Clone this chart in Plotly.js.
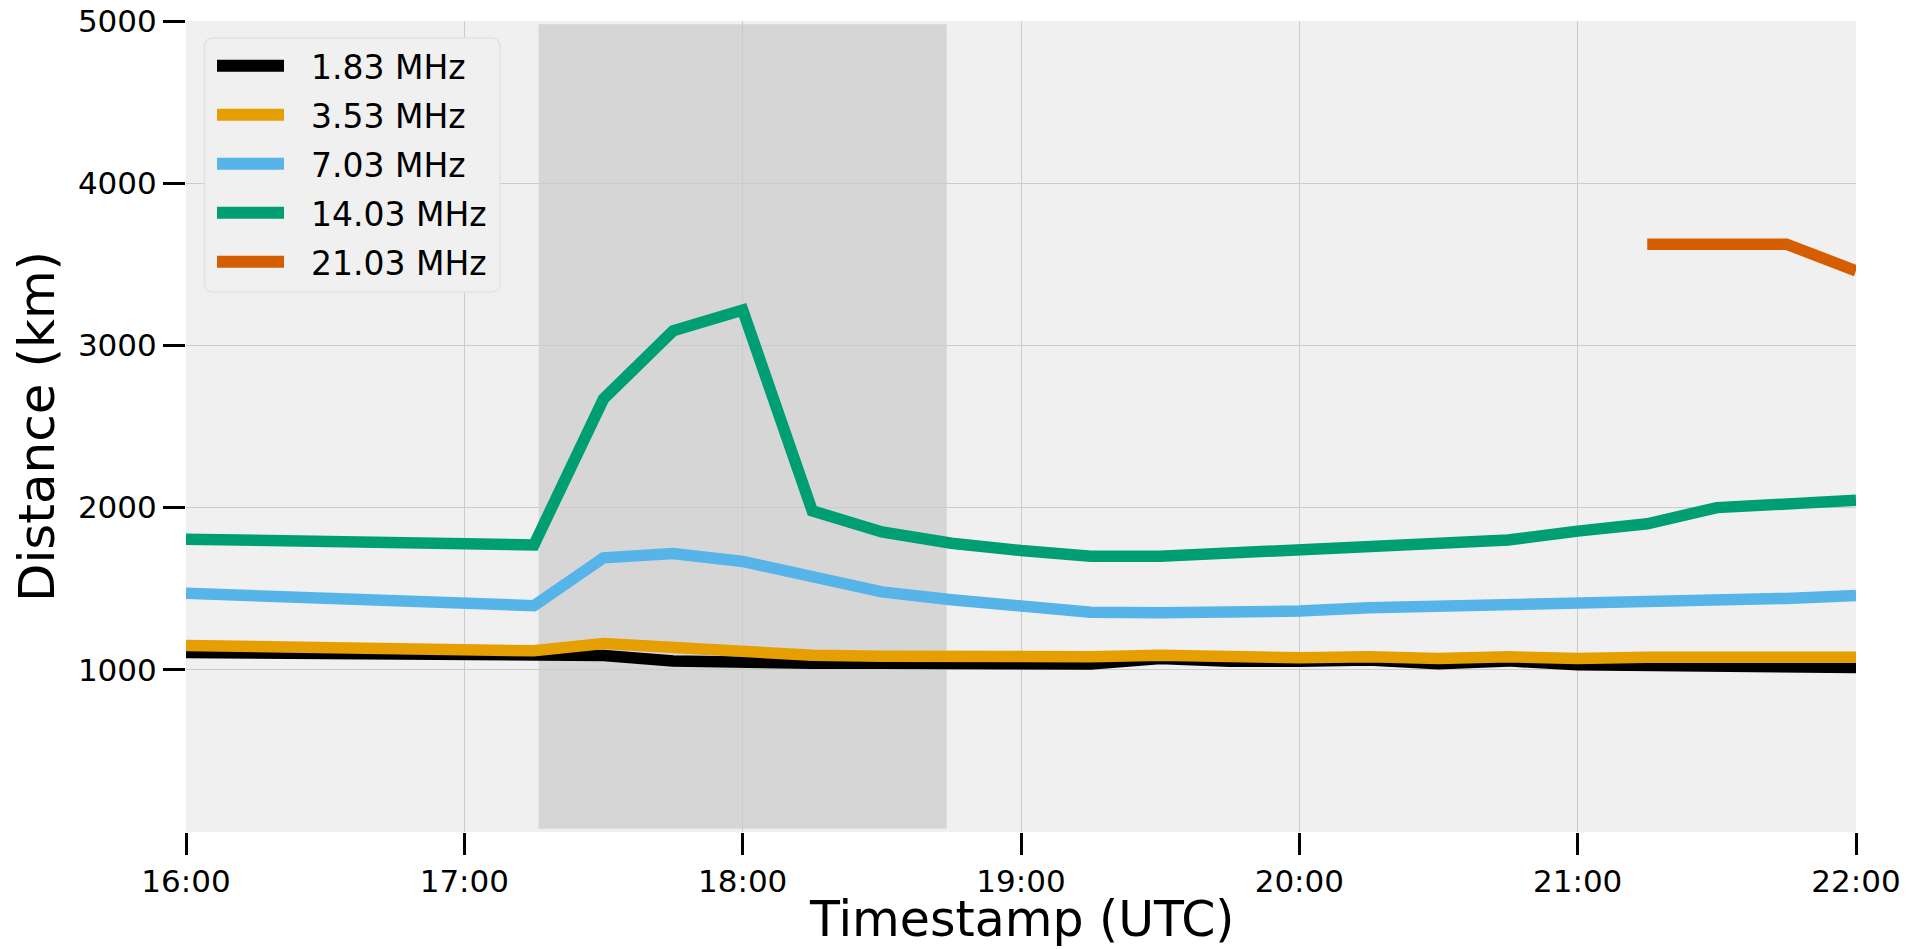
<!DOCTYPE html>
<html>
<head>
<meta charset="utf-8">
<script src="https://cdn.plot.ly/plotly-3.0.1.min.js"></script>
<style>html,body{margin:0;padding:0;background:#fff;}#chart{width:1909px;height:949px;}</style>
</head>
<body>
<div id="chart"></div>
<script>
// Timestamps every 15 minutes, 16:00 -> 22:00 UTC
const timestamps = [
  "2024-01-01 16:00","2024-01-01 16:15","2024-01-01 16:30","2024-01-01 16:45",
  "2024-01-01 17:00","2024-01-01 17:15","2024-01-01 17:30","2024-01-01 17:45",
  "2024-01-01 18:00","2024-01-01 18:15","2024-01-01 18:30","2024-01-01 18:45",
  "2024-01-01 19:00","2024-01-01 19:15","2024-01-01 19:30","2024-01-01 19:45",
  "2024-01-01 20:00","2024-01-01 20:15","2024-01-01 20:30","2024-01-01 20:45",
  "2024-01-01 21:00","2024-01-01 21:15","2024-01-01 21:30","2024-01-01 21:45",
  "2024-01-01 22:00"
];
const seriesNames = ["1.83 MHz","3.53 MHz","7.03 MHz","14.03 MHz","21.03 MHz"];
const seriesColors = ["#000000","#E69F00","#56B4E9","#009E73","#D55E00"];

const dist_1_83 = [1107,1103,1090,1090,1086,1082,1088,1055,1041,1040,1040,1040,1039,1035,1070,1052,1052,1060,1038,1055,1031,1029,1024,1018,1014];
const dist_3_53 = [1150,1142,1130,1126,1121,1117,1162,1135,1105,1090,1084,1080,1079,1080,1090,1074,1074,1080,1070,1080,1070,1078,1074,1074,1078];
const dist_7_03 = [1472,1458,1443,1428,1412,1395,1690,1717,1668,1580,1480,1432,1385,1355,1352,1355,1362,1383,1390,1400,1405,1418,1428,1440,1458];
const dist_14_03 = [1805,1795,1788,1780,1772,1770,2670,3090,3218,1980,1850,1780,1735,1700,1700,1720,1750,1765,1780,1800,1855,1900,2000,2020,2045];
const dist_21_03 = [null,null,null,null,null,null,null,null,null,null,null,null,null,null,null,null,null,null,null,null,null,3624,3624,3624,3460];

const shadedStart = "2024-01-01 17:16";
const shadedEnd = "2024-01-01 18:44";
const yTicks = [1000,2000,3000,4000,5000];
const xTitle = "Timestamp (UTC)";
const yTitle = "Distance (km)";

const allSeries = [dist_1_83, dist_3_53, dist_7_03, dist_14_03, dist_21_03];
const FONT = "DejaVu Sans, Verdana, sans-serif";

// ---- figure geometry (pixels) ----
const W = 1909, H = 949;
const M = {l: 186, r: 53, t: 21, b: 117};
const PW = W - M.l - M.r, PH = H - M.t - M.b;
const px2x = p => (p - M.l) / PW;           // pixel x -> paper x
const px2y = p => (H - M.b - p) / PH;       // pixel y -> paper y

const traces = allSeries.map((ys, i) => ({
  type: "scatter",
  mode: "lines",
  x: timestamps,
  y: ys,
  name: seriesNames[i],
  line: {color: seriesColors[i], width: 11.5},
  connectgaps: false,
  showlegend: false,
  hoverinfo: "x+y+name"
}));

// ---- legend drawn as a framed box (matplotlib-like) ----
const LG = {left: 204.5, right: 500, top: 38, bottom: 292, r: 9,
            lineX0: 217, lineX1: 284, textX: 309, row0: 65.7, rowStep: 49};
function roundedRectPath(x0, y0, x1, y1, r) {
  const X = px2x, Y = px2y;
  return `M ${X(x0 + r)} ${Y(y0)} L ${X(x1 - r)} ${Y(y0)} Q ${X(x1)} ${Y(y0)} ${X(x1)} ${Y(y0 + r)} ` +
         `L ${X(x1)} ${Y(y1 - r)} Q ${X(x1)} ${Y(y1)} ${X(x1 - r)} ${Y(y1)} ` +
         `L ${X(x0 + r)} ${Y(y1)} Q ${X(x0)} ${Y(y1)} ${X(x0)} ${Y(y1 - r)} ` +
         `L ${X(x0)} ${Y(y0 + r)} Q ${X(x0)} ${Y(y0)} ${X(x0 + r)} ${Y(y0)} Z`;
}
const legendShapes = [{
  type: "path", xref: "paper", yref: "paper", layer: "above",
  path: roundedRectPath(LG.left, LG.top, LG.right, LG.bottom, LG.r),
  fillcolor: "#f0f0f0", line: {color: "#e2e2e2", width: 1.5}
}];
const legendAnnotations = [];
seriesNames.forEach((nm, i) => {
  const yy = LG.row0 + i * LG.rowStep;
  legendShapes.push({
    type: "line", xref: "paper", yref: "paper", layer: "above",
    x0: px2x(LG.lineX0), x1: px2x(LG.lineX1), y0: px2y(yy), y1: px2y(yy),
    line: {color: seriesColors[i], width: 12}
  });
  legendAnnotations.push({
    xref: "paper", yref: "paper", x: px2x(LG.textX), y: px2y(yy + 1.5),
    xanchor: "left", yanchor: "middle", showarrow: false, text: nm,
    font: {family: FONT, size: 33, color: "#000000"}
  });
});

// x-axis title placed as an annotation in the space under the tick labels
const xTitleAnnotation = {
  xref: "paper", yref: "paper", x: 0.5, y: px2y(919),
  xanchor: "center", yanchor: "middle", showarrow: false, text: xTitle,
  borderpad: 0,
  font: {family: FONT, size: 49, color: "#000000"}
};

const layout = {
  width: W,
  height: H,
  margin: M,
  paper_bgcolor: "#ffffff",
  plot_bgcolor: "#f0f0f0",
  font: {family: FONT, color: "#000000", size: 31},
  showlegend: false,
  xaxis: {
    type: "date",
    range: ["2024-01-01 16:00", "2024-01-01 22:00"],
    tick0: "2024-01-01 16:00",
    dtick: 3600000,
    tickformat: "%H:%M",
    showgrid: true, gridcolor: "#cbcbcb", gridwidth: 1.3,
    zeroline: false, showline: false,
    ticks: "outside", ticklen: 22, tickwidth: 2.5, tickcolor: "#000000",
    tickfont: {family: FONT, size: 31, color: "#000000"}
  },
  yaxis: {
    range: [0, 5000],
    tickvals: yTicks,
    ticktext: yTicks.map(String),
    showgrid: true, gridcolor: "#cbcbcb", gridwidth: 1.3,
    zeroline: false, showline: false,
    ticks: "outside", ticklen: 22, tickwidth: 2.5, tickcolor: "#000000",
    tickfont: {family: FONT, size: 31, color: "#000000"},
    title: {text: yTitle, font: {family: FONT, size: 50, color: "#000000"}, standoff: 7}
  },
  shapes: [{
    type: "rect", layer: "below",
    xref: "x", yref: "paper",
    x0: shadedStart, x1: shadedEnd, y0: 0.004, y1: 0.996,
    fillcolor: "#d6d6d6", line: {width: 0}
  }].concat(legendShapes),
  annotations: legendAnnotations.concat([xTitleAnnotation])
};

Plotly.newPlot("chart", traces, layout, {displayModeBar: false, responsive: false});
</script>
</body>
</html>
